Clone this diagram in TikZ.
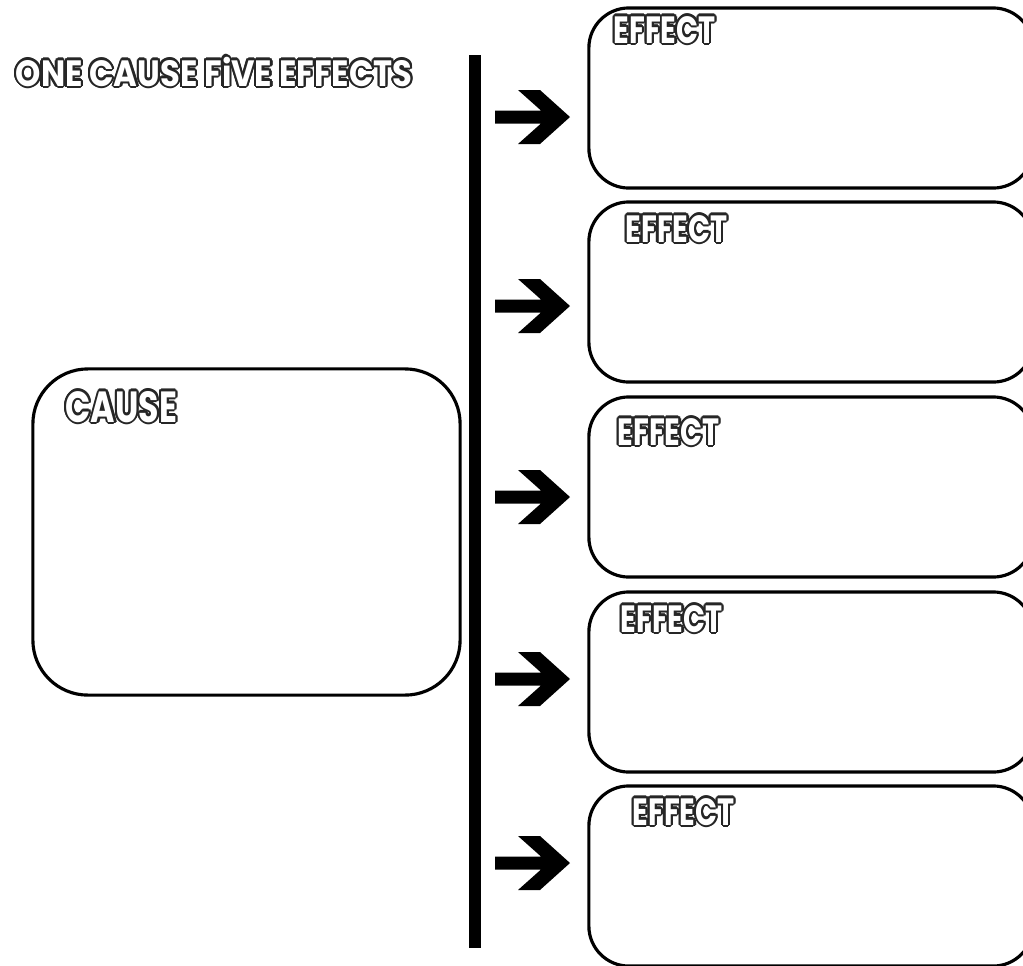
\documentclass[tikz,border=0pt]{standalone}
\usepackage{fontspec}
\usepackage[copies]{contour}
\newfontfamily\titlefont{Poppins}[FakeStretch=0.88]
\newfontfamily\labelfont{Poppins}[FakeStretch=0.76]
\contourlength{0.6pt}
\newcommand{\bubble}[1]{\textcolor{white}{\contour{black!85}{#1}}}
\tikzset{
    box/.style={draw, line width=0.9pt, rounded corners=0.4cm, minimum width=4.44cm, minimum height=1.8cm},
    boxlabel/.style={anchor=base west, inner sep=0pt, font=\labelfont\bfseries\fontsize{10.8pt}{12pt}\selectfont},
}
\begin{document}
\begin{tikzpicture}[x=0.01cm, y=-0.01cm]
    \useasboundingbox (0,0) rectangle (1023,966);
    \node[boxlabel, font=\titlefont\bfseries\fontsize{10.4pt}{12pt}\selectfont] (title) at (15,86) {\bubble{ONE CAUSE FiVE EFFECTS}};
    \node[box, rounded corners=0.55cm, minimum width=4.27cm, minimum height=3.26cm] (cause) at (246.5,532) {};
    \node[boxlabel, font=\labelfont\bfseries\fontsize{12.4pt}{14pt}\selectfont] (causelbl) at (65,422) {\bubble{CAUSE}};
    \draw[line width=0.12cm] (475,55) -- (475,948);
    \foreach \i/\y/\a/\lx/\ly in {1/98/117/613/43, 2/292/306/625/242, 3/487/497/617/445, 4/682/679/620/632, 5/876/863/632/825} {
        \node[box] (e\i) at (811,\y) {};
        \node[boxlabel] (e\i lbl) at (\lx,\ly) {\bubble{EFFECT}};
        \fill[shift={(570,\a)}] (-75,-6.5) -- (-29,-6.5) -- (-52,-27) -- (-30,-27) -- (0,0) -- (-30,27) -- (-52,27) -- (-29,6.5) -- (-75,6.5) -- cycle;
    }
\end{tikzpicture}
\end{document}
